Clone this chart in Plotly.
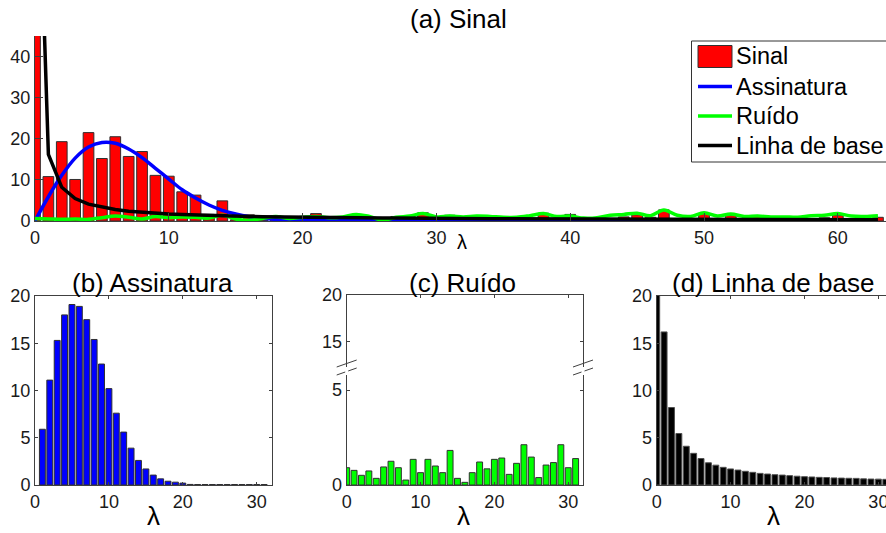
import plotly.graph_objects as go

W, H = 886, 533

# ---- data -------------------------------------------------------------
lam = list(range(64))
lam_sub = list(range(32))

sinal = [117, 10.8, 19.3, 10.1, 21.5, 15.2, 20.5, 15.7, 16.9, 11.1,
         10.9, 7.1, 6.3, 1.6, 4.9, 0.3, 1.5, 0.2, 1.2, 0.4,
         0.3, 1.8, 0.2, 0.8, 0.9, 0.2, 0.3, 1.1, 1.3, 2.0,
         0.3, 1.4, 0.2, 1.2, 0.4, 0.5, 0.2, 0.4, 1.9, 0.3,
         1.6, 0.2, 0.3, 0.4, 1.0, 1.5, 0.9, 2.7, 0.6, 0.3,
         1.8, 0.4, 1.3, 0.3, 1.1, 0.4, 0.9, 0.2, 0.5, 0.8,
         1.4, 0.3, 0.6, 0.9]

assinatura = [0.0, 5.9, 11.1, 15.3, 18.0, 19.1, 18.9, 17.5, 15.4, 12.8,
              10.2, 7.6, 5.6, 3.9, 2.6, 1.7, 1.05, 0.65, 0.4, 0.3,
              0.2, 0.06, 0.05, 0.05, 0.05, 0.05, 0.05, 0.05, 0.05, 0.05,
              0.05, 0.05, 0, 0, 0, 0, 0, 0, 0, 0,
              0, 0, 0, 0, 0, 0, 0, 0, 0, 0,
              0, 0, 0, 0, 0, 0, 0, 0, 0, 0,
              0, 0, 0, 0]

ruido_curva = [0.6, 0.5, 0.4, 0.5, 0.4, 0.8, 1.2, 0.9, 0.5, 1.1,
               0.8, 1.0, 0.9, 0.7, 1.4, 0.5, 0.2, 0.6, 1.1, 0.6,
               0.9, 1.1, 0.8, 1.0, 1.6, 1.1, 0.2, 0.9, 1.2, 1.8,
               1.0, 1.2, 1.0, 1.2, 1.1, 0.9, 0.9, 1.3, 1.8, 1.1,
               1.2, 0.7, 0.8, 1.4, 1.6, 1.9, 1.3, 2.7, 1.4, 1.1,
               2.0, 1.2, 1.7, 1.1, 1.2, 1.0, 1.0, 0.9, 1.3, 1.4,
               1.8, 1.2, 1.1, 1.3]

linha_base = [116, 16.2, 8.2, 5.45, 4.1, 3.35, 2.8, 2.35, 2.1, 1.87,
              1.7, 1.58, 1.45, 1.34, 1.23, 1.16, 1.09, 1.05, 0.99, 0.93,
              0.88, 0.85, 0.81, 0.79, 0.75, 0.73, 0.71, 0.70, 0.65, 0.63,
              0.62, 0.60, 0.58, 0.56, 0.55, 0.53, 0.52, 0.51, 0.49, 0.48,
              0.47, 0.46, 0.45, 0.44, 0.43, 0.43, 0.42, 0.41, 0.40, 0.40,
              0.39, 0.38, 0.38, 0.37, 0.37, 0.36, 0.35, 0.35, 0.34, 0.34,
              0.33, 0.33, 0.33, 0.32]

ruido = [0.91, 0.77, 0.51, 0.74, 0.35, 0.95, 1.25, 0.91, 0.26, 1.35,
         0.65, 1.35, 1.0, 0.65, 1.82, 0.35, 0.14, 0.65, 1.21, 0.85,
         1.35, 1.42, 0.56, 1.14, 2.12, 1.47, 0.39, 1.05, 1.18, 2.12,
         0.91, 1.39]

legend_names = ["Sinal", "Assinatura", "Ruído", "Linha de base"]
titles = ["(a) Sinal", "(b) Assinatura", "(c) Ruído", "(d) Linha de base"]

RED, BLUE, GREEN, BLACK = "#ff0000", "#0000ff", "#00ff00", "#000000"
EDGE = "#303030"
AXC = "#404040"
FONT = "Arial, Liberation Sans, sans-serif"


def fx(x):
    return x / W


def fy(y):
    return 1 - y / H


fig = go.Figure()

# ---- (a) signal with its three components ------------------------------
fig.add_trace(go.Bar(x=lam, y=sinal, width=0.8, name=legend_names[0],
                     marker=dict(color=RED, line=dict(color=EDGE, width=1)),
                     xaxis="x", yaxis="y"))
fig.add_trace(go.Scatter(x=lam, y=assinatura, mode="lines", name=legend_names[1],
                         line=dict(color=BLUE, width=3.5, shape="spline"),
                         xaxis="x", yaxis="y"))
fig.add_trace(go.Scatter(x=lam, y=ruido_curva, mode="lines", name=legend_names[2],
                         line=dict(color=GREEN, width=3.5, shape="spline"),
                         xaxis="x", yaxis="y"))
fig.add_trace(go.Scatter(x=lam, y=linha_base, mode="lines", name=legend_names[3],
                         line=dict(color=BLACK, width=3.5),
                         xaxis="x", yaxis="y"))

# ---- (b) signature ----------------------------------------------------
fig.add_trace(go.Bar(x=lam_sub[1:], y=assinatura[1:32], width=0.8,
                     marker=dict(color=BLUE, line=dict(color=EDGE, width=1)),
                     xaxis="x2", yaxis="y2"))

# ---- (c) noise (broken y axis: lower part carries the bars) -----------
fig.add_trace(go.Bar(x=lam_sub, y=ruido, width=0.8,
                     marker=dict(color=GREEN, line=dict(color=EDGE, width=1)),
                     xaxis="x3", yaxis="y3"))
fig.add_trace(go.Scatter(x=[], y=[], xaxis="x4", yaxis="y4"))

# ---- (d) baseline -----------------------------------------------------
fig.add_trace(go.Bar(x=lam_sub, y=linha_base[:32], width=0.8,
                     marker=dict(color=BLACK, line=dict(color="#505050", width=1)),
                     xaxis="x5", yaxis="y5"))

tickfont = dict(family=FONT, size=18, color="#1a1a1a")


def ax(**kw):
    base = dict(showgrid=False, zeroline=False, showline=True, linecolor=AXC,
                linewidth=1, ticks="inside", tickcolor=AXC, tickwidth=1,
                ticklen=3, tickfont=tickfont, fixedrange=True,
                automargin=False, ticklabeloverflow="allow")
    base.update(kw)
    return base


# bottom panels share geometry: bottom at 485 px, 20 at 296 px
b_bot, b_top = 485, 296

fig.update_layout(
    width=W, height=H,
    margin=dict(l=0, r=0, t=0, b=0, autoexpand=False),
    paper_bgcolor="white", plot_bgcolor="white",
    showlegend=False,
    font=dict(family=FONT, color="#111"),
    barmode="overlay",
    xaxis=ax(domain=[fx(35), 1], range=[0, 63.6], anchor="y",
             tickvals=[0, 10, 20, 30, 40, 50, 60], ticklen=8),
    yaxis=ax(domain=[fy(221), fy(36)], range=[0, 45], anchor="x",
             tickvals=[0, 10, 20, 30, 40], ticklen=8),
    xaxis2=ax(domain=[fx(35), fx(271.5)], range=[0, 32], anchor="y2",
              tickvals=[0, 10, 20, 30], mirror="ticks"),
    yaxis2=ax(domain=[fy(b_bot), fy(b_top)], range=[0, 20], anchor="x2",
              tickvals=[0, 5, 10, 15, 20], mirror="ticks"),
    xaxis3=ax(domain=[fx(346.7), fx(583)], range=[0, 32], anchor="y3",
              tickvals=[0, 10, 20, 30]),
    yaxis3=ax(domain=[fy(b_bot), fy(375)], range=[0, 5.79], anchor="x3",
              tickvals=[0, 5], mirror="ticks"),
    xaxis4=ax(domain=[fx(346.7), fx(583)], range=[0, 32], anchor="y4",
              side="top", tickvals=[0, 10, 20, 30], showticklabels=False),
    yaxis4=ax(domain=[fy(367), fy(295)], range=[12.29, 20], anchor="x4",
              tickvals=[15, 20], mirror="ticks"),
    xaxis5=ax(domain=[fx(656.7), 1], range=[0, 31.03], anchor="y5",
              tickvals=[0, 10, 20, 30], mirror="ticks"),
    yaxis5=ax(domain=[fy(b_bot), fy(b_top)], range=[0, 20], anchor="x5",
              tickvals=[0, 5, 10, 15, 20]),
)

# ---- titles and axis labels ---------------------------------------------
ann = []
title_pos = [(458, 19), (152, 283), (462, 283), (773, 283)]
for t, (x, y) in zip(titles, title_pos):
    ann.append(dict(text=t, x=fx(x), y=fy(y), xref="paper", yref="paper",
                    showarrow=False, xanchor="center", yanchor="middle",
                    font=dict(family=FONT, size=26, color="#000")))
for x, y, s in [(462, 242, 20), (153, 516, 26), (463, 516, 26), (773, 516, 26)]:
    ann.append(dict(text="λ", x=fx(x), y=fy(y), xref="paper", yref="paper",
                    showarrow=False, xanchor="center", yanchor="middle",
                    font=dict(family=FONT, size=s, color="#000")))

# ---- legend box ---------------------------------------------------------
shapes = [dict(type="rect", xref="paper", yref="paper",
               x0=fx(691.5), x1=fx(900), y0=fy(162), y1=fy(41),
               line=dict(color="#333", width=1), fillcolor="white", layer="above")]
rows = [56.5, 86.5, 116, 145.5]
shapes.append(dict(type="rect", xref="paper", yref="paper",
                   x0=fx(698), x1=fx(732), y0=fy(67.5), y1=fy(45.5),
                   line=dict(color=EDGE, width=1), fillcolor=RED, layer="above"))
for yrow, col in zip(rows[1:], [BLUE, GREEN, BLACK]):
    shapes.append(dict(type="line", xref="paper", yref="paper",
                       x0=fx(698), x1=fx(732), y0=fy(yrow), y1=fy(yrow),
                       line=dict(color=col, width=3.5), layer="above"))
for name, yrow in zip(legend_names, rows):
    ann.append(dict(text=name, x=fx(734), y=fy(yrow), xref="paper", yref="paper",
                    showarrow=False, xanchor="left", yanchor="middle",
                    font=dict(family=FONT, size=23.5, color="#000")))

# ---- axis-break marks on panel (c) ----------------------------------------
for xc in (346.7, 583):
    for dy in (0, 8):
        shapes.append(dict(type="line", xref="paper", yref="paper",
                           x0=fx(xc - 10), y0=fy(375 - dy),
                           x1=fx(xc + 10), y1=fy(368 - dy),
                           line=dict(color=AXC, width=1)))
    # white gap across the break
    shapes.append(dict(type="rect", xref="paper", yref="paper",
                       x0=fx(xc - 1.5), x1=fx(xc + 1.5), y0=fy(373), y1=fy(369),
                       line=dict(width=0), fillcolor="white"))

fig.update_layout(annotations=ann, shapes=shapes)

fig.write_html("out.html")
